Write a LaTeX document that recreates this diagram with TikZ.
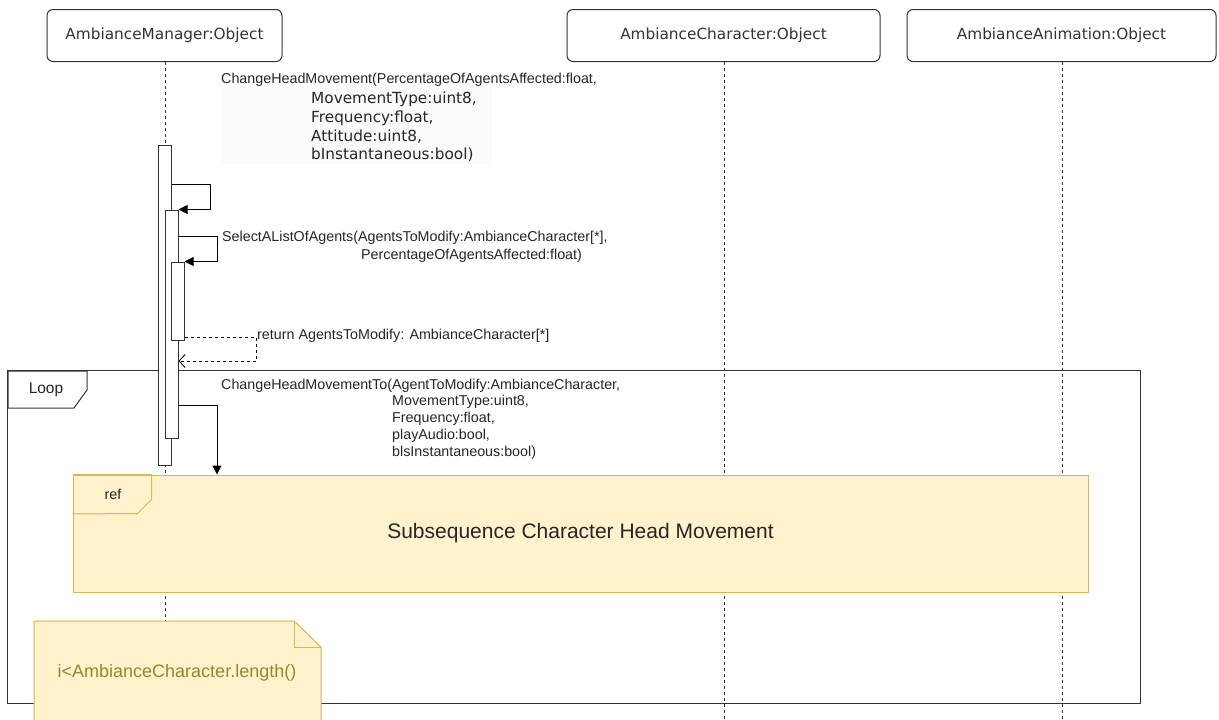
\documentclass[tikz,border=0pt]{standalone}
\usepackage{fontspec}
\setmainfont{Liberation Sans}
\newfontfamily\verd{DejaVu Sans}
\usetikzlibrary{arrows.meta}
\definecolor{refFill}{HTML}{FFF2CC}
\definecolor{refLine}{HTML}{D6B656}
\definecolor{noteText}{HTML}{8F8B2B}
\definecolor{lineGray}{HTML}{333333}
\definecolor{bgGray}{HTML}{FAFAFA}
\begin{document}
\begin{tikzpicture}[x=1pt,y=-1pt,
  objbox/.style={draw=lineGray, rounded corners=6pt, line width=1pt, minimum height=52pt,
    font=\verd\fontsize{15.3}{17}\selectfont, text=lineGray, inner sep=0pt},
  life/.style={draw=lineGray, dash pattern=on 3pt off 3pt, line width=0.9pt},
  actbar/.style={draw=lineGray, fill=white, line width=1pt, inner sep=0pt, minimum width=13pt},
  msg/.style={draw=black, line width=1pt, -{Triangle[length=9pt,width=9pt]}},
  retmsg/.style={draw=black, line width=0.9pt, dash pattern=on 3pt off 3pt, -{Straight Barb[length=6pt,width=13pt]}},
  lbl/.style={font=\fontsize{14.3}{16}\selectfont, inner sep=0pt, anchor=west, text=black!85},
  vlbl/.style={font=\verd\fontsize{15.3}{17}\selectfont, inner sep=0pt, anchor=west, text=black!85},
  frameline/.style={draw=lineGray, line width=1pt},
  yellowshape/.style={draw=refLine, fill=refFill, line width=1pt}
]
\useasboundingbox (0,0) rectangle (1219,720);
\fill[white] (0,0) rectangle (1219,720);

% lifeline heads
\node[objbox, minimum width=235pt] (mgr) at (164.5,35.5) {AmbianceManager:Object};
\node[objbox, minimum width=313pt] (chr) at (723.5,35.5) {AmbianceCharacter:Object};
\node[objbox, minimum width=309pt] (anim) at (1061.5,35.5) {AmbianceAnimation:Object};

% lifelines
\coordinate (mgrEnd) at (165,722);
\coordinate (chrEnd) at (724,722);
\coordinate (animEnd) at (1062,722);
\draw[life] (mgr.south -| mgrEnd) -- (mgrEnd);
\draw[life] (chr.south -| chrEnd) -- (chrEnd);
\draw[life] (anim.south -| animEnd) -- (animEnd);

% loop frame
\node[draw=none, minimum width=1132pt, minimum height=332pt, inner sep=0pt] (loop) at (574,537) {};
\draw[frameline] (loop.north west) rectangle (loop.south east);
\draw[frameline, fill=white] (8,371) -- (87,371) -- (87,390) -- (74,408) -- (8,408) -- cycle;
\node[font=\fontsize{15.5}{17}\selectfont, text=black!85, inner sep=0pt] (looplbl) at (46,390) {Loop};

% message 1 label
\fill[bgGray] (221,88) rectangle (492,164);
\node[lbl] (m1a) at (221,80) {ChangeHeadMovement(PercentageOfAgentsAffected:float,};
\node[vlbl] (m1b) at (311,99) {MovementType:uint8,};
\node[vlbl] (m1c) at (311,118) {Frequency:float,};
\node[vlbl] (m1d) at (311,137) {Attitude:uint8,};
\node[vlbl] (m1e) at (311,155) {bInstantaneous:bool)};

% activation bars
\node[actbar, minimum height=320pt] (barA) at (164.5,305) {};
\node[actbar, minimum height=228pt] (barB) at (171.5,324) {};
\node[actbar, minimum height=78pt] (barC) at (177.5,301) {};

% self message 1
\coordinate (s1) at (210,184);
\draw[msg] (barA.east |- s1) -- (s1) |- (barB.north east);

% self message 2
\coordinate (s2) at (217,236);
\draw[msg] (barB.east |- s2) -- (s2) |- (barC.north east);
\node[lbl] (m2a) at (222,238) {SelectAListOfAgents(AgentsToModify:AmbianceCharacter[*],};
\node[lbl] (m2b) at (361,256) {PercentageOfAgentsAffected:float)};

% return
\coordinate (r1) at (256,337);
\coordinate (r2) at (256,361);
\draw[retmsg] (barC.east |- r1) -- (r1) -- (r2) -- (barB.east |- r2);
\node[lbl] (retlbl) at (257,336) {return AgentsToModify: AmbianceCharacter[*]};

% ref frame
\node[yellowshape, minimum width=1015pt, minimum height=117pt, inner sep=0pt] (ref) at (580.5,533.5) {};
\draw[draw=refLine, line width=1pt] (ref.north west) -- ++(79,0) -- ++(0,25) -- ++(-14,14) -- (ref.west |- 0,514);
\node[font=\fontsize{14.3}{16}\selectfont, text=black!85, inner sep=0pt] (reflbl) at (113,494) {ref};
\node[font=\fontsize{21}{24}\selectfont, text=black!85, inner sep=0pt] (reftitle) at (580.5,533) {Subsequence Character Head Movement};

% message 3
\coordinate (m3) at (217,405);
\draw[msg] (barB.east |- m3) -- (m3) -- (m3 |- ref.north);
\node[lbl] (m3a) at (221,386) {ChangeHeadMovementTo(AgentToModify:AmbianceCharacter,};
\node[lbl] (m3b) at (392,402) {MovementType:uint8,};
\node[lbl] (m3c) at (392,419) {Frequency:float,};
\node[lbl] (m3d) at (392,436) {playAudio:bool,};
\node[lbl] (m3e) at (392,453) {blsInstantaneous:bool)};

% note
\draw[yellowshape] (34,621) -- (294,621) -- (321,647) -- (321,726) -- (34,726) -- cycle;
\draw[draw=refLine, line width=1pt] (294,621) -- (294,647) -- (321,647);
\node[font=\fontsize{18}{21}\selectfont, text=noteText, inner sep=0pt] (notelbl) at (177,673) {i<AmbianceCharacter.length()};
\end{tikzpicture}
\end{document}
